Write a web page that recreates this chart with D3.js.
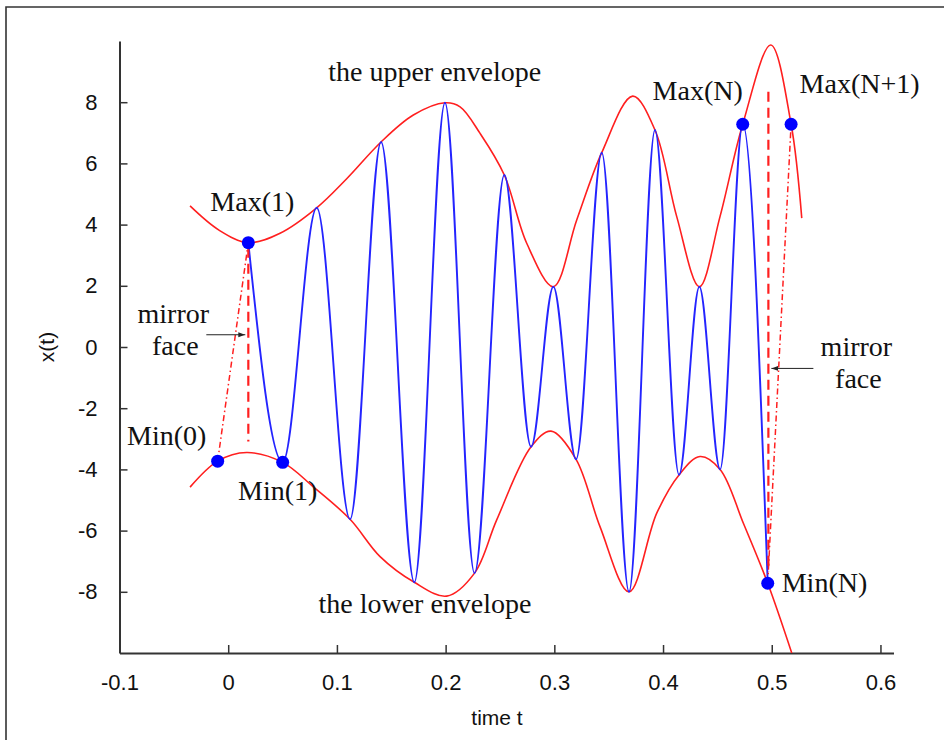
<!DOCTYPE html>
<html>
<head>
<meta charset="utf-8">
<script src="https://cdn.jsdelivr.net/npm/d3@7"></script>
<style>
  html, body { margin: 0; padding: 0; background: #fff; }
  svg { display: block; }
</style>
</head>
<body>
<svg id="chart" width="944" height="740"></svg>
<script>
// Extrema of the signal x(t), alternating maximum / minimum, from Max(1) to Min(N)
const extremaT = [0.0185, 0.0501, 0.0814, 0.1121, 0.1406, 0.1712, 0.1994, 0.2266, 0.2540, 0.2786,
                  0.2991, 0.3200, 0.3436, 0.3687, 0.3926, 0.4147, 0.4334, 0.4525, 0.4733, 0.4963];
const extremaX = [3.41, -3.77, 4.55, -5.63, 6.70, -7.69, 7.98, -7.39, 5.62, -3.26,
                  1.97, -3.67, 6.35, -8.00, 7.09, -4.18, 1.97, -4.00, 7.28, -7.72];

// Upper envelope through the maxima (with the mirrored end maxima)
const upperT = [-0.0351, -0.0085, 0.0185, 0.0477, 0.0814, 0.1090, 0.1406, 0.1703, 0.1994, 0.2133,
                0.2317, 0.2540, 0.2746, 0.2991, 0.3206, 0.3436, 0.3721, 0.3926, 0.4126, 0.4334,
                0.4524, 0.4733, 0.4991, 0.5178, 0.5276];
const upperX = [4.61, 3.82, 3.41, 3.72, 4.55, 5.50, 6.70, 7.58, 7.98, 7.85,
                6.98, 5.62, 3.39, 1.97, 4.15, 6.35, 8.20, 7.09, 4.26, 1.97,
                4.26, 7.28, 9.87, 7.28, 4.21];

// Lower envelope through the minima (with the mirrored end minima)
const lowerT = [-0.0351, -0.0097, 0.0170, 0.0501, 0.0783, 0.1121, 0.1397, 0.1712, 0.2010, 0.2266,
                0.2470, 0.2786, 0.2970, 0.3200, 0.3420, 0.3687, 0.3942, 0.4147, 0.4340, 0.4525,
                0.4739, 0.4963, 0.5184];
const lowerX = [-4.58, -3.73, -3.45, -3.77, -4.57, -5.63, -6.85, -7.69, -8.14, -7.39,
                -5.65, -3.26, -2.75, -3.67, -5.87, -8.00, -5.43, -4.18, -3.58, -4.00,
                -5.76, -7.72, -10.0];

// Marked extrema, including the mirrored points Min(0) and Max(N+1)
const markerNames = ["Min(0)", "Max(1)", "Min(1)", "Max(N)", "Min(N)", "Max(N+1)"];
const markerT = [-0.0097, 0.0185, 0.0501, 0.4733, 0.4963, 0.5178];
const markerX = [-3.73, 3.41, -3.77, 7.28, -7.72, 7.28];

// Mirror faces at both ends (dashed verticals)
const mirrorT = [0.0185, 0.4969];
const mirrorTop = [3.24, 8.34];
const mirrorBottom = [-3.09, -7.35];

// Mirror segments joining each end extremum to its reflection
const mirrorSegFrom = ["Min(0)", "Min(N)"];
const mirrorSegTo = ["Max(1)", "Max(N+1)"];

const xTicks = [-0.1, 0, 0.1, 0.2, 0.3, 0.4, 0.5, 0.6];
const yTicks = [-8, -6, -4, -2, 0, 2, 4, 6, 8];

const svg = d3.select("#chart");

const x = d3.scaleLinear().domain([-0.1, 0.612]).range([119.5, 893.5]);
const y = d3.scaleLinear().domain([-10, 10]).range([653, 41]);

const RED = "#ff1f1f";
const BLUE = "#2424ff";
const serif = "'Liberation Serif', 'Times New Roman', serif";
const sans = "'Liberation Sans', Arial, sans-serif";

// outer frame
svg.append("path")
  .attr("d", "M6,740 V7 H944")
  .attr("fill", "none")
  .attr("stroke", "#333")
  .attr("stroke-width", 1.6);

const defs = svg.append("defs");
defs.append("clipPath").attr("id", "plot")
  .append("rect")
  .attr("x", x.range()[0]).attr("y", y.range()[1])
  .attr("width", x.range()[1] - x.range()[0])
  .attr("height", y.range()[0] - y.range()[1]);

// axes with inward ticks
const xAxis = d3.axisBottom(x).tickValues(xTicks).tickFormat(d => String(d))
  .tickSizeInner(-8).tickSizeOuter(0).tickPadding(21);
const yAxis = d3.axisLeft(y).tickValues(yTicks).tickFormat(d => String(d))
  .tickSizeInner(-8).tickSizeOuter(0).tickPadding(22);

const gx = svg.append("g").attr("transform", `translate(0,${y(-10)})`).call(xAxis);
const gy = svg.append("g").attr("transform", `translate(${x(-0.1)},0)`).call(yAxis);

[gx, gy].forEach(g => {
  g.select(".domain").attr("stroke", "#333").attr("stroke-width", 2);
  g.selectAll(".tick line").attr("stroke", "#333").attr("stroke-width", 1.5);
  g.selectAll(".tick text")
    .attr("fill", "#111")
    .style("font-family", sans)
    .style("font-size", "22px");
});

svg.append("text")
  .attr("x", 497).attr("y", 725)
  .attr("text-anchor", "middle")
  .style("font-family", sans).style("font-size", "21px").attr("fill", "#111")
  .text("time t");

svg.append("text")
  .attr("transform", `translate(54,${y(0)}) rotate(-90)`)
  .attr("text-anchor", "middle")
  .style("font-family", sans).style("font-size", "21px").attr("fill", "#111")
  .text("x(t)");

const plot = svg.append("g").attr("clip-path", "url(#plot)");

const envelopeLine = d3.line().x(d => x(d[0])).y(d => y(d[1]))
  .curve(d3.curveCatmullRom.alpha(0.5));
const signalLine = d3.line().x(d => x(d[0])).y(d => y(d[1]))
  .curve(d3.curveMonotoneX);

// envelopes
plot.append("path")
  .attr("d", envelopeLine(d3.zip(upperT, upperX)))
  .attr("fill", "none").attr("stroke", RED).attr("stroke-width", 1.6);
plot.append("path")
  .attr("d", envelopeLine(d3.zip(lowerT, lowerX)))
  .attr("fill", "none").attr("stroke", RED).attr("stroke-width", 1.6);

// signal
plot.append("path")
  .attr("d", signalLine(d3.zip(extremaT, extremaX)))
  .attr("fill", "none").attr("stroke", BLUE).attr("stroke-width", 1.9);

// mirror faces
plot.selectAll("line.mirror")
  .data(d3.range(mirrorT.length))
  .join("line")
  .attr("class", "mirror")
  .attr("x1", i => x(mirrorT[i])).attr("x2", i => x(mirrorT[i]))
  .attr("y1", i => y(mirrorTop[i])).attr("y2", i => y(mirrorBottom[i]))
  .attr("stroke", RED).attr("stroke-width", 2.2)
  .attr("stroke-dasharray", "10,6");

const markerIndex = name => markerNames.indexOf(name);

// dash-dot segments to the reflected extrema
plot.selectAll("line.reflect")
  .data(d3.range(mirrorSegFrom.length))
  .join("line")
  .attr("class", "reflect")
  .attr("x1", i => x(markerT[markerIndex(mirrorSegFrom[i])]))
  .attr("y1", i => y(markerX[markerIndex(mirrorSegFrom[i])]))
  .attr("x2", i => x(markerT[markerIndex(mirrorSegTo[i])]))
  .attr("y2", i => y(markerX[markerIndex(mirrorSegTo[i])]))
  .attr("stroke", RED).attr("stroke-width", 1.5)
  .attr("stroke-dasharray", "6,3,1.5,3");

// extremum markers
svg.selectAll("circle.marker")
  .data(d3.range(markerNames.length))
  .join("circle")
  .attr("class", "marker")
  .attr("cx", i => x(markerT[i])).attr("cy", i => y(markerX[i]))
  .attr("r", 6.5)
  .attr("fill", "#0000ff");

// marker labels: offset (px) from each marker and text anchor
const labelOffset = {
  "Min(0)":   [-51, -16, "middle"],
  "Max(1)":   [4, -32, "middle"],
  "Min(1)":   [-5, 38, "middle"],
  "Max(N)":   [-45, -24, "middle"],
  "Min(N)":   [14, 8.5, "start"],
  "Max(N+1)": [68.5, -31, "middle"]
};

const annot = svg.append("g")
  .style("font-family", serif).style("font-size", "28px").attr("fill", "#111");

markerNames.forEach((name, i) => {
  const [dx, dy, anchor] = labelOffset[name];
  annot.append("text")
    .attr("x", x(markerT[i]) + dx).attr("y", y(markerX[i]) + dy)
    .attr("text-anchor", anchor)
    .text(name);
});

annot.append("text")
  .attr("x", x(0.190)).attr("y", y(8.69))
  .attr("text-anchor", "middle").text("the upper envelope");
annot.append("text")
  .attr("x", x(0.181)).attr("y", y(-8.69))
  .attr("text-anchor", "middle").text("the lower envelope");

// "mirror face" callouts with arrows pointing at each mirror line
defs.append("marker")
  .attr("id", "arrowhead")
  .attr("viewBox", "0 0 10 10").attr("refX", 10).attr("refY", 5)
  .attr("markerWidth", 7).attr("markerHeight", 7)
  .attr("orient", "auto")
  .append("path").attr("d", "M0,1.5 L10,5 L0,8.5 Z").attr("fill", "#222");

const callouts = [
  { i: 0, level: 0.4, from: -42, to: -3, textDx: -75 },
  { i: 1, level: -0.7, from: 45, to: 3, textDx: 88 }
];

callouts.forEach(c => {
  const mx = x(mirrorT[c.i]);
  const my = y(c.level);
  svg.append("line")
    .attr("x1", mx + c.from).attr("x2", mx + c.to)
    .attr("y1", my).attr("y2", my)
    .attr("stroke", "#222").attr("stroke-width", 1)
    .attr("marker-end", "url(#arrowhead)");
  annot.append("text")
    .attr("x", mx + c.textDx).attr("y", my - 12)
    .attr("text-anchor", "middle").text("mirror");
  annot.append("text")
    .attr("x", mx + c.textDx + 2).attr("y", my + 20)
    .attr("text-anchor", "middle").text("face");
});
</script>
</body>
</html>
